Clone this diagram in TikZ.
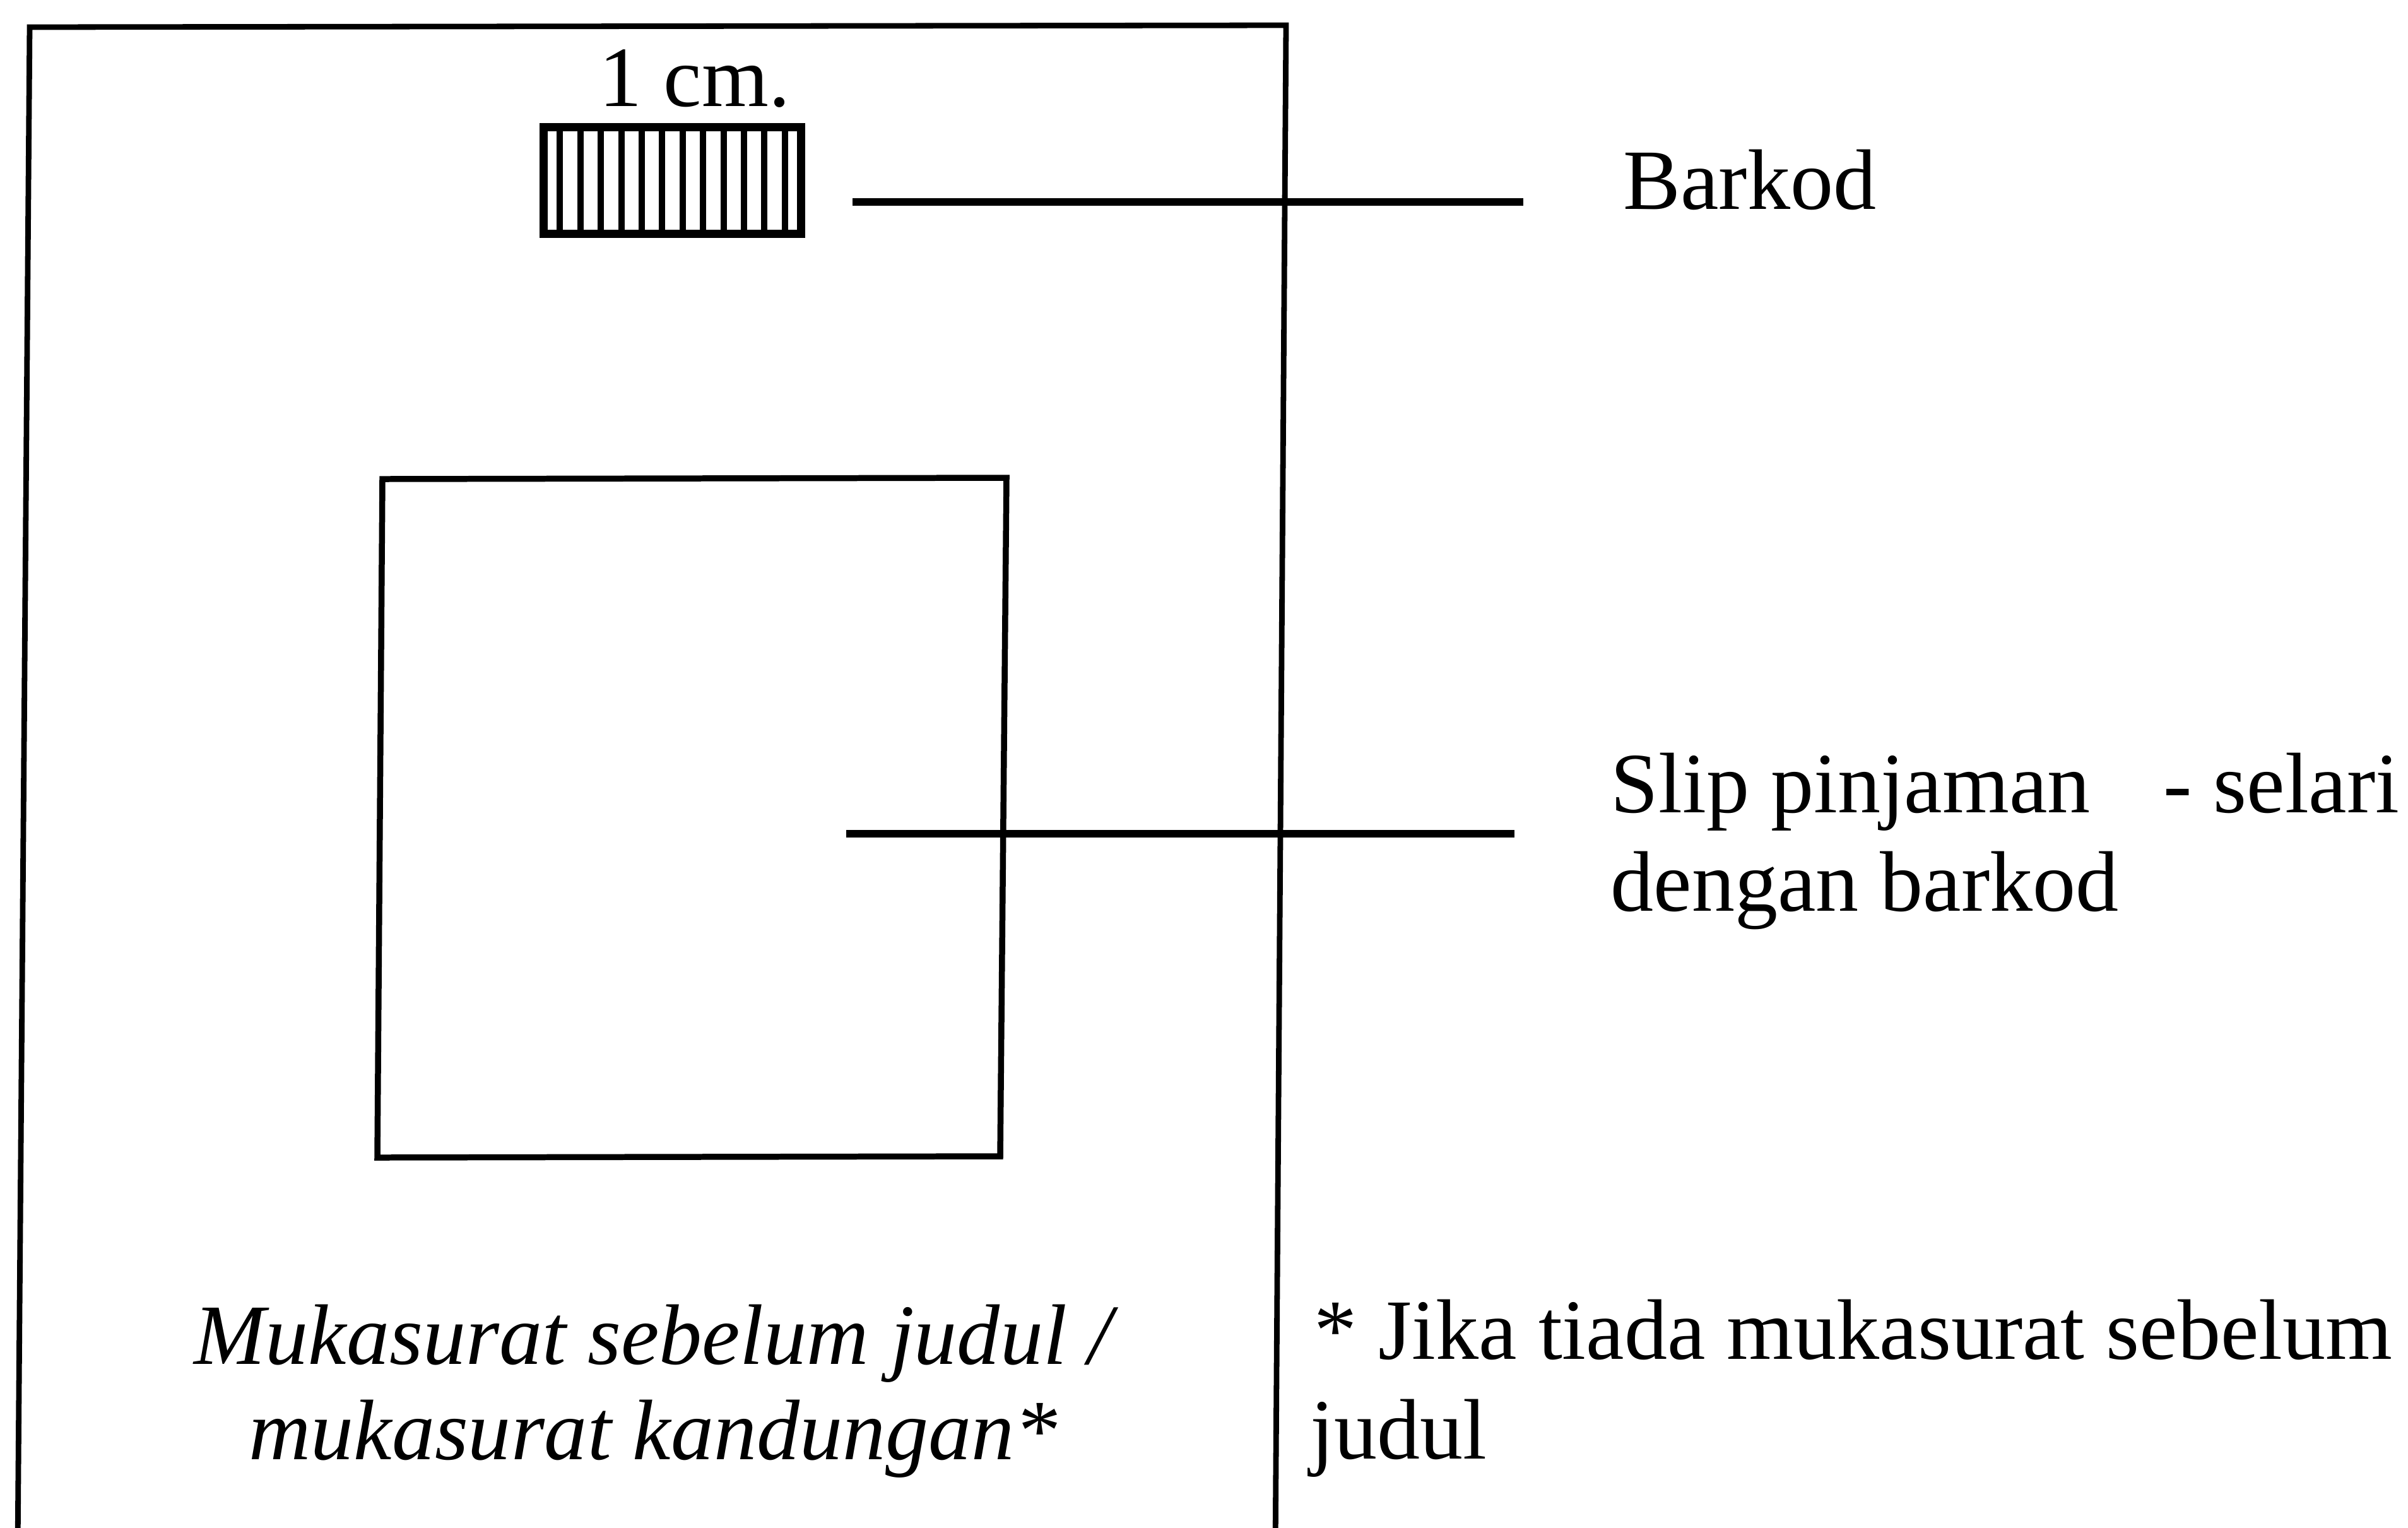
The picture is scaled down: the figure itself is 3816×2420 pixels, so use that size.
\documentclass[tikz,border=0pt]{standalone}
\usepackage{fontspec}
\setmainfont{Liberation Serif}
\begin{document}
\begin{tikzpicture}[x=0.01cm,y=-0.01cm,
  frame/.style={line width=2.5pt, line join=miter},
  slipbox/.style={line width=2.7pt, line join=miter},
  leader/.style={line width=3.5pt},
  bars/.style={line width=2.85pt},
  label/.style={inner sep=0pt, font=\fontsize{38.7}{46}\selectfont},
  caption/.style={inner sep=0pt, font=\fontsize{38.7}{46}\selectfont\itshape}]
\useasboundingbox (0,0) rectangle (3816,2420);
\fill[white] (0,0) rectangle (3816,2420);

% page outline (runs off the lower edge)
\coordinate (pbl) at (28,2460);
\coordinate (ptl) at (47,43);
\coordinate (ptr) at (2038,40);
\coordinate (pbr) at (2021,2460);
\draw[frame] (pbl) -- (ptl) -- (ptr) -- (pbr);

% barcode, 1 cm wide
\node[draw, line width=3.7pt, inner sep=0pt, minimum width=4.08cm, minimum height=1.69cm] (barcode) at (1065.5,286) {};
\foreach \k in {1,...,12}
  \draw[bars] (855+\k*32.4,197) -- (855+\k*32.4,375);
\node[label, anchor=base] (scale) at (1101,168) {1 cm.};

% loan slip
\coordinate (s1) at (606,759);
\coordinate (s2) at (1595,757);
\coordinate (s3) at (1585,1832);
\coordinate (s4) at (598,1834);
\draw[slipbox] (s1) -- (s2) -- (s3) -- (s4) -- cycle;

% labels on the right
\node[label, anchor=base west] (barkod) at (2572,331) {Barkod};
\node[label, anchor=base west] (slipA) at (2552,1287) {Slip pinjaman\hspace{0.85em}- selari};
\node[label, anchor=base west] (slipB) at (2552,1443) {dengan barkod};
\node[label, anchor=base west] (noteA) at (2082,2153) {* Jika tiada mukasurat sebelum};
\node[label, anchor=base west] (noteB) at (2076,2311) {judul};

% leader lines
\coordinate (bkA) at (1351,320);
\coordinate (bkB) at (2414,320);
\draw[leader] (bkA) -- (bkB);
\coordinate (slA) at (1341,1321);
\coordinate (slB) at (2400,1321);
\draw[leader] (slA) -- (slB);

% page caption
\node[caption, anchor=base] (capA) at (1035,2161) {Mukasurat sebelum judul /};
\node[caption, anchor=base] (capB) at (1035,2312) {mukasurat kandungan*};
\end{tikzpicture}
\end{document}
